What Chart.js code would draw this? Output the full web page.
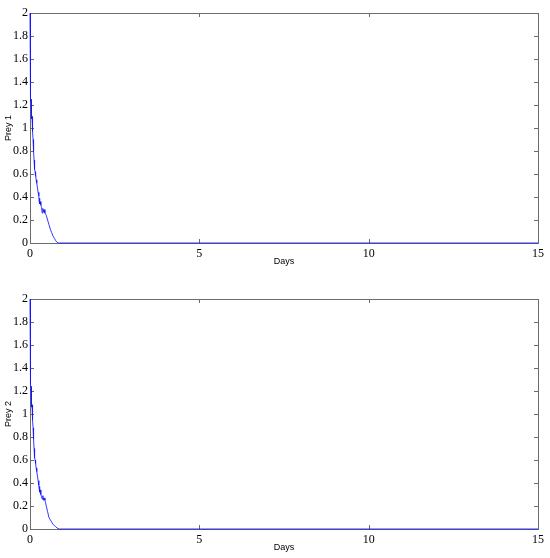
<!DOCTYPE html>
<html>
<head>
<meta charset="utf-8">
<script src="https://cdn.jsdelivr.net/npm/chart.js@4/dist/chart.umd.min.js"></script>
<style>
  html, body { margin: 0; padding: 0; background: #fff; }
  .box { position: relative; width: 550px; height: 279px; }
</style>
</head>
<body>
<div class="box"><canvas id="prey1"></canvas></div>
<div class="box"><canvas id="prey2"></canvas></div>
<script>
// Days (x) and population values
const prey1Days = [0, 0.005, 0.01, 0.015, 0.02, 0.025, 0.03, 0.035, 0.04, 0.045, 0.05, 0.06, 0.07, 0.08, 0.09, 0.1,
  0.11, 0.12, 0.13, 0.14, 0.15, 0.16, 0.17, 0.18, 0.2, 0.22, 0.24, 0.26, 0.27, 0.28, 0.29, 0.3, 0.32, 0.34,
  0.36, 0.38, 0.4, 0.42, 0.44, 0.46, 0.48, 0.52, 0.56, 0.6, 0.64, 0.68, 0.72, 0.76, 0.8, 0.84, 15];
const prey1Values = [2.0, 1.7, 1.5, 1.35, 1.45, 1.25, 1.22, 1.25, 1.12, 1.2, 1.08, 1.1, 1.02, 0.97, 0.9, 0.84,
  0.8, 0.72, 0.68, 0.64, 0.62, 0.58, 0.6, 0.55, 0.52, 0.48, 0.44, 0.41, 0.36, 0.39, 0.34, 0.36, 0.33, 0.31,
  0.26, 0.3, 0.27, 0.29, 0.26, 0.25, 0.24, 0.2, 0.16, 0.12, 0.09, 0.06, 0.04, 0.02, 0.005, 0, 0];

const prey2Days = [0, 0.005, 0.01, 0.015, 0.02, 0.025, 0.03, 0.035, 0.04, 0.045, 0.05, 0.06, 0.07, 0.08, 0.09, 0.1,
  0.11, 0.12, 0.13, 0.14, 0.15, 0.16, 0.17, 0.18, 0.2, 0.22, 0.24, 0.26, 0.27, 0.28, 0.29, 0.3, 0.32, 0.34,
  0.36, 0.38, 0.4, 0.42, 0.44, 0.46, 0.48, 0.52, 0.56, 0.6, 0.64, 0.68, 0.72, 0.76, 0.8, 0.86, 15];
const prey2Values = [2.0, 1.72, 1.52, 1.38, 1.5, 1.26, 1.2, 1.24, 1.1, 1.18, 1.06, 1.08, 1.0, 0.95, 0.88, 0.82,
  0.78, 0.7, 0.66, 0.62, 0.6, 0.57, 0.58, 0.53, 0.5, 0.46, 0.42, 0.38, 0.35, 0.37, 0.32, 0.34, 0.3, 0.28,
  0.26, 0.29, 0.25, 0.27, 0.25, 0.23, 0.2, 0.15, 0.1, 0.08, 0.06, 0.04, 0.03, 0.02, 0.008, 0, 0];

const dayTicks = [0, 5, 10, 15];
const yMin = 0, yMax = 2, yStep = 0.2;

const serif = "'Liberation Serif', 'DejaVu Serif', serif";
const sans = "'Liberation Sans', Arial, sans-serif";

// MATLAB-like box with inward tick marks on all four sides, drawn under the curve
const boxPlugin = {
  id: 'matlabBox',
  beforeDatasetsDraw(chart) {
    const { ctx, chartArea: a, scales } = chart;
    ctx.save();
    ctx.strokeStyle = '#6b6b6b';
    ctx.lineWidth = 1;
    ctx.strokeRect(Math.round(a.left) + 0.5, Math.round(a.top) + 0.5,
      Math.round(a.right - a.left), Math.round(a.bottom - a.top));
    const len = 4;
    ctx.beginPath();
    scales.x.ticks.forEach(t => {
      const px = Math.round(scales.x.getPixelForValue(t.value)) + 0.5;
      ctx.moveTo(px, a.bottom); ctx.lineTo(px, a.bottom - len);
      ctx.moveTo(px, a.top); ctx.lineTo(px, a.top + len);
    });
    scales.y.ticks.forEach(t => {
      const py = Math.round(scales.y.getPixelForValue(t.value)) + 0.5;
      ctx.moveTo(a.left, py); ctx.lineTo(a.left + len, py);
      ctx.moveTo(a.right, py); ctx.lineTo(a.right - len, py);
    });
    ctx.stroke();
    ctx.restore();
  }
};

function makeChart(id, days, values, yLabel, padTop, padBottom) {
  const pts = days.map((d, i) => ({ x: d, y: values[i] }));
  return new Chart(document.getElementById(id), {
    type: 'line',
    data: {
      datasets: [{
        data: pts,
        borderColor: 'rgba(20, 20, 255, 0.85)',
        borderWidth: 1,
        pointRadius: 0,
        tension: 0,
        fill: false,
        clip: 3
      }]
    },
    options: {
      responsive: true,
      maintainAspectRatio: false,
      animation: false,
      layout: { padding: { top: padTop, right: 12, left: 0, bottom: padBottom } },
      plugins: { legend: { display: false }, tooltip: { enabled: false } },
      scales: {
        x: {
          type: 'linear',
          min: 0, max: 15,
          afterBuildTicks: (s) => { s.ticks = dayTicks.map(v => ({ value: v })); },
          afterFit: (s) => { s.height = 24; },
          grid: { display: false, drawTicks: false },
          border: { display: false },
          ticks: { color: '#000', font: { family: serif, size: 12 }, padding: 4, maxRotation: 0 },
          title: { display: true, text: 'Days', color: '#000', font: { family: sans, size: 9 }, padding: { top: 0, bottom: 0 } }
        },
        y: {
          min: yMin, max: yMax,
          afterFit: (s) => { s.width = 30; },
          grid: { display: false, drawTicks: false },
          border: { display: false },
          ticks: {
            stepSize: yStep, color: '#000', font: { family: serif, size: 12 }, padding: 2,
            callback: (v) => String(Number(v.toFixed(1)))
          },
          title: { display: true, text: yLabel, color: '#000', font: { family: sans, size: 9 }, padding: { top: 3, bottom: 0 } }
        }
      }
    },
    plugins: [boxPlugin]
  });
}

makeChart('prey1', prey1Days, prey1Values, 'Prey 1', 13, 12);
makeChart('prey2', prey2Days, prey2Values, 'Prey 2', 20, 5);
</script>
</body>
</html>
